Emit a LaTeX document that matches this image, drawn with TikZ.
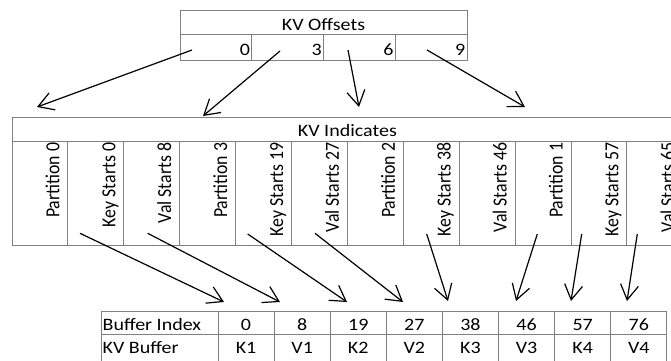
\documentclass[tikz,border=0pt]{standalone}
\usepackage{fontspec}
\setmainfont{Carlito}[FakeStretch=1.15]
\newfontfamily\upfont{Carlito}
\usetikzlibrary{arrows.meta}
\definecolor{tablegray}{RGB}{128,128,128}
\newcommand\kvfont{\fontsize{17.4}{20}\selectfont}
\newcommand\vlabel[1]{\scalebox{1}[1.12]{\upfont\fontsize{17.8}{20}\selectfont #1}}

\begin{document}
\begin{tikzpicture}[x=1pt, y=-1pt, > = {Straight Barb[length=15pt, width=18pt]},
cellbox/.style = {draw=tablegray, line width=1pt, inner sep=0pt, outer sep=0pt},
txt/.style = {inner sep=0pt, font=\kvfont},
vtxt/.style = {txt, rotate=90, anchor=base east},
arr/.style = {->, line width=1.2pt},
]
	\useasboundingbox (0,0) rectangle (671,360);
	\clip (0,0) rectangle (671,360);

	% KV Offsets
	\node[cellbox, minimum width=287pt, minimum height=24pt] (offs) at (323.5,22) {};
	\node[txt, anchor=base] (offs-title) at (323.5,30.7) {KV Offsets};
	\foreach \v [count=\i from 0] in {0,3,6,9} {
		\node[cellbox, minimum width=71.75pt, minimum height=26pt] (off\i) at ({180+71.75*(\i+0.5)},47) {};
		\node[txt, anchor=base east] (off-val\i) at ({180+71.75*(\i+1)-1.5},55.7) {\v};
	}

	% KV Indicates
	\node[cellbox, minimum width=670.8pt, minimum height=24.5pt] (ind) at (347.4,129.25) {};
	\node[txt, anchor=base] (ind-title) at (347.4,136.5) {KV Indicates};
	\foreach \t [count=\i] in {Partition 0, Key Starts 0, Val Starts 8, Partition 3, Key Starts 19, Val Starts 27,
		Partition 2, Key Starts 38, Val Starts 46, Partition 1, Key Starts 57, Val Starts 65} {
		\node[cellbox, minimum width=55.9pt, minimum height=104pt] (ind\i) at ({12+55.9*(\i-0.5)},193.5) {};
		\node[vtxt] (ind-txt\i) at ({12+55.9*\i-8.5},142.5) {\vlabel{\t}};
	}

	% KV Buffer
	\node[cellbox, minimum width=117pt, minimum height=23pt] (buf-idx) at (159.5,322.5) {};
	\node[cellbox, minimum width=117pt, minimum height=28pt] (buf-kv) at (159.5,348) {};
	\node[txt, anchor=base west] (buf-idx-txt) at (102.5,330.7) {Buffer Index};
	\node[txt, anchor=base west] (buf-kv-txt) at (102.5,353.3) {KV Buffer};
	\foreach \n/\k [count=\i] in {0/K1, 8/V1, 19/K2, 27/V2, 38/K3, 46/V3, 57/K4, 76/V4} {
		\node[cellbox, minimum width=56.1pt, minimum height=23pt] (idx\i) at ({218+56.1*(\i-0.5)},322.5) {};
		\node[cellbox, minimum width=56.1pt, minimum height=28pt] (kv\i) at ({218+56.1*(\i-0.5)},348) {};
		\node[txt, anchor=base] (idx-txt\i) at ({218+56.1*(\i-0.5)},330.7) {\n};
		\node[txt, anchor=base] (kv-txt\i) at ({218+56.1*(\i-0.5)},353.3) {\k};
	}

	% arrows offsets -> indicates
	\foreach \i/\sx/\sy/\ex/\ey in {1/192/50/37/107, 2/280/51/203/116, 3/348/50/359/107, 4/427/50/525/107} {
		\coordinate (os\i) at (\sx,\sy);
		\coordinate (oe\i) at (\ex,\ey);
		\draw[arr] (os\i) -- (oe\i);
	}

	% arrows indicates -> buffer
	\foreach \i/\sx/\sy/\ex/\ey in {1/80/233.3/224/302, 2/147.7/233.3/280/302, 3/247.7/234/347/302, 4/315/233.3/403/302,
		5/426.7/234/448/301, 6/537.3/234/516/301, 7/581.7/234/571/301, 8/637.3/234/627/301} {
		\coordinate (bs\i) at (\sx,\sy);
		\coordinate (be\i) at (\ex,\ey);
		\draw[arr] (bs\i) -- (be\i);
	}
\end{tikzpicture}
\end{document}
